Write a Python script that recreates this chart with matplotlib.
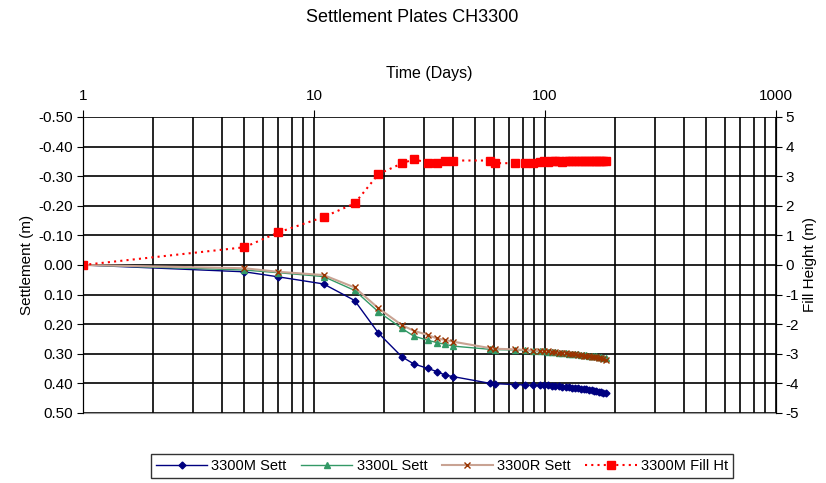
import numpy as np
import matplotlib.pyplot as plt
from matplotlib.ticker import FixedFormatter, NullFormatter, LogLocator

plt.rcParams['font.family'] = ['Liberation Sans', 'DejaVu Sans']
plt.rcParams['axes.unicode_minus'] = False

# time in days (same for every series)
days = [1, 5, 7, 11, 15, 19, 24, 27, 31, 34, 37, 40, 58, 61, 74, 82, 89,
        95, 99, 103, 107, 111, 115, 119, 123, 127, 131, 135, 139, 143, 147,
        151, 155, 159, 163, 167, 171, 175, 179, 183]

sett_m = [0.0, 0.023, 0.040, 0.064, 0.120, 0.230, 0.310, 0.334, 0.349, 0.360,
          0.372, 0.377, 0.400, 0.401, 0.404, 0.405, 0.406,
          0.406, 0.407, 0.407, 0.408, 0.409, 0.410, 0.411, 0.412, 0.413, 0.414,
          0.415, 0.416, 0.418, 0.419, 0.420, 0.422, 0.423, 0.425, 0.426, 0.428,
          0.429, 0.431, 0.433]

sett_l = [0.0, 0.017, 0.026, 0.039, 0.086, 0.158, 0.214, 0.240, 0.254, 0.262,
          0.268, 0.274, 0.285, 0.286, 0.287, 0.288, 0.290,
          0.291, 0.292, 0.293, 0.294, 0.295, 0.296, 0.297, 0.298, 0.299, 0.300,
          0.301, 0.302, 0.303, 0.304, 0.305, 0.306, 0.307, 0.308, 0.309, 0.310,
          0.311, 0.313, 0.315]

sett_r = [0.0, 0.011, 0.023, 0.034, 0.076, 0.146, 0.203, 0.222, 0.236, 0.248,
          0.253, 0.259, 0.281, 0.283, 0.285, 0.287, 0.289,
          0.290, 0.291, 0.292, 0.293, 0.295, 0.296, 0.297, 0.298, 0.300, 0.301,
          0.302, 0.303, 0.305, 0.306, 0.307, 0.308, 0.310, 0.311, 0.312, 0.314,
          0.315, 0.317, 0.320]

fill_ht = [0.0, 0.6, 1.1, 1.62, 2.08, 3.07, 3.43, 3.57, 3.46, 3.46,
           3.53, 3.53, 3.53, 3.44, 3.44, 3.44, 3.46,
           3.48, 3.50, 3.49, 3.50, 3.50, 3.50, 3.49, 3.50, 3.50, 3.50,
           3.50, 3.50, 3.50, 3.50, 3.50, 3.50, 3.50, 3.50, 3.50, 3.50,
           3.50, 3.50, 3.50]

left_ticks = ['-0.50', '-0.40', '-0.30', '-0.20', '-0.10', '0.00',
              '0.10', '0.20', '0.30', '0.40', '0.50']

fig = plt.figure(figsize=(8.26, 4.83), dpi=100)
ax = fig.add_axes([83/826, 1-413/483, (776-83)/826, (413-117)/483])

ax.plot(days, sett_m, color='#000080', lw=1, marker='D', ms=3.5, label='3300M Sett')
ax.plot(days, sett_l, color='#339966', lw=1, marker='^', ms=5, label='3300L Sett')
ax.plot(days, sett_r, color='#c9a393', lw=1.5, marker='x', ms=5, mec='#993300',
        mew=1, label='3300R Sett')

ax.set_xscale('log')
ax.set_xlim(1, 1000)
ax.set_ylim(0.5, -0.5)
ax.set_yticks(np.linspace(-0.5, 0.5, 11))
ax.set_yticklabels(left_ticks)
ax.xaxis.tick_top()
ax.xaxis.set_label_position('top')
ax.set_xticks([1, 10, 100, 1000])
ax.xaxis.set_major_formatter(FixedFormatter(['1', '10', '100', '1000']))
ax.xaxis.set_minor_locator(LogLocator(base=10, subs=np.arange(2, 10)))
ax.xaxis.set_minor_formatter(NullFormatter())
ax.tick_params(axis='x', which='major', length=5, labelsize=11, pad=5)
ax.tick_params(axis='x', which='minor', length=0)
ax.tick_params(axis='y', length=4, labelsize=11, pad=3)
ax.grid(which='both', color='black', lw=1.2)
ax.set_axisbelow(True)
ax.set_xlabel('Time (Days)', fontsize=11.5, labelpad=8)
ax.set_ylabel('Settlement (m)', fontsize=11, labelpad=3)
ax.spines['top'].set_visible(False)
ax.spines['bottom'].set_color('#999999')

ax2 = ax.twinx()
ax2.plot(days, fill_ht, color='#ff0000', lw=1.5, ls=(0, (1, 2)), marker='s', ms=5.5,
         label='3300M Fill Ht')
ax2.set_ylim(-5, 5)
ax2.set_yticks(np.arange(-5, 6, 1))
ax2.tick_params(axis='y', length=4, labelsize=11, pad=3)
ax2.set_ylabel('Fill Height (m)', fontsize=11, labelpad=3)
ax2.spines['top'].set_visible(False)
ax2.spines['bottom'].set_visible(False)

fig.text(412/826, 1-17/483, 'Settlement Plates CH3300', ha='center', va='center', fontsize=13)

h1, l1 = ax.get_legend_handles_labels()
h2, l2 = ax2.get_legend_handles_labels()
leg = fig.legend(h1 + h2, l1 + l2, loc='center', bbox_to_anchor=(442/826, 1-466/483),
                 ncol=4, fontsize=10.5, frameon=True, fancybox=False, edgecolor='black',
                 handlelength=3.5, columnspacing=1.0, handletextpad=0.3, borderpad=0.35)
leg.get_frame().set_linewidth(1)

fig.savefig('out.png', dpi=100)
